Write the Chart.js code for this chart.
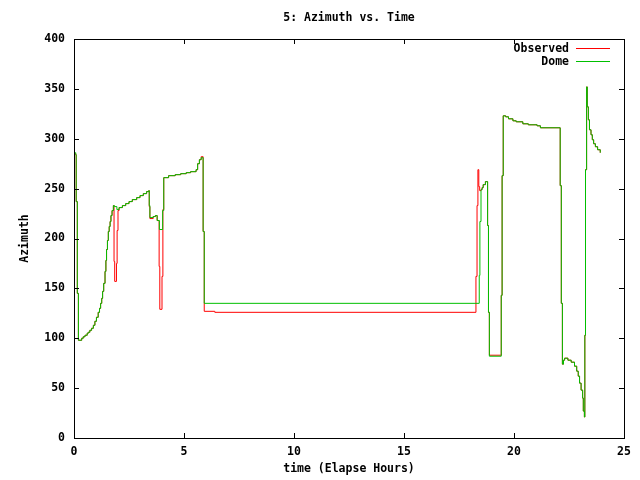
<!DOCTYPE html>
<html>
<head>
<meta charset="utf-8">
<title>5: Azimuth vs. Time</title>
<script src="https://cdn.jsdelivr.net/npm/chart.js@4.4.1/dist/chart.umd.min.js"></script>
<style>
  html, body { margin: 0; padding: 0; background: #fff; }
  canvas { display: block; }
</style>
</head>
<body>
<canvas id="azChart" width="640" height="480"></canvas>
<script>
// [elapsed hours, azimuth in degrees] - value changes
const domeTrack = [
    [0, 286], [0.08, 284], [0.1, 237], [0.15, 145], [0.2, 98], [0.35, 100], [0.42, 101.5],
    [0.5, 103], [0.6, 105], [0.65, 106], [0.72, 108], [0.8, 110], [0.88, 113], [0.95, 117],
    [1.02, 121], [1.1, 126], [1.16, 130], [1.21, 135], [1.26, 140], [1.3, 147], [1.35, 155],
    [1.41, 167], [1.45, 178], [1.48, 189], [1.52, 198], [1.56, 207], [1.6, 212], [1.64, 217],
    [1.68, 223], [1.73, 228], [1.79, 233], [1.84, 232], [1.95, 229], [2.05, 231], [2.2, 233],
    [2.35, 235], [2.5, 237], [2.65, 239], [2.85, 241], [3.0, 243], [3.15, 245], [3.3, 247],
    [3.4, 248], [3.42, 233], [3.45, 221], [3.6, 222], [3.7, 223], [3.78, 218], [3.88, 209],
    [4.03, 228], [4.08, 261], [4.3, 263], [4.6, 264], [4.85, 265], [5.1, 266], [5.3, 267],
    [5.55, 269], [5.62, 275], [5.7, 279], [5.78, 281], [5.87, 207], [5.92, 135],
    [18.42, 163], [18.45, 217], [18.5, 249], [18.55, 251], [18.6, 254], [18.7, 257],
    [18.8, 213], [18.84, 126], [18.88, 82], [19.42, 143], [19.46, 263], [19.51, 323],
    [19.62, 322], [19.75, 320], [19.95, 318], [20.1, 317], [20.4, 315], [20.65, 314],
    [21.05, 313], [21.2, 311], [22.1, 253], [22.15, 135], [22.2, 74], [22.25, 78], [22.3, 80],
    [22.45, 78], [22.6, 76], [22.75, 72], [22.85, 67], [22.92, 62], [22.98, 55], [23.05, 48],
    [23.12, 40], [23.15, 27], [23.2, 21], [23.22, 103], [23.25, 269], [23.3, 352],
    [23.33, 332], [23.38, 319], [23.43, 309], [23.5, 304], [23.56, 299], [23.62, 295],
    [23.7, 292], [23.8, 289], [23.92, 286]
];

const observedTrack = [
    [0, 285], [0.08, 284], [0.1, 237], [0.15, 145], [0.2, 98], [0.35, 100], [0.42, 101.5],
    [0.5, 103], [0.6, 105], [0.65, 106], [0.72, 108], [0.8, 110], [0.88, 113], [0.95, 117],
    [1.02, 121], [1.1, 126], [1.16, 130], [1.21, 135], [1.26, 140], [1.3, 147], [1.35, 155],
    [1.41, 167], [1.45, 178], [1.48, 189], [1.52, 198], [1.56, 207], [1.6, 212], [1.64, 217],
    [1.68, 223], [1.73, 228], [1.79, 233], [1.82, 177], [1.85, 157], [1.93, 175], [1.96, 208],
    [2.0, 228], [2.05, 231], [2.2, 233], [2.35, 235], [2.5, 237], [2.65, 239], [2.85, 241],
    [3.0, 243], [3.15, 245], [3.3, 247], [3.4, 248], [3.42, 232], [3.45, 220], [3.6, 222],
    [3.7, 223], [3.78, 218], [3.87, 172], [3.9, 129], [4.0, 162], [4.04, 229], [4.08, 261],
    [4.3, 263], [4.6, 264], [4.85, 265], [5.1, 266], [5.3, 267], [5.55, 269], [5.62, 275],
    [5.7, 279], [5.78, 282], [5.87, 207], [5.92, 127], [6.4, 126],
    [18.27, 162], [18.32, 233], [18.36, 269], [18.4, 252], [18.44, 248], [18.5, 249],
    [18.55, 251], [18.6, 254], [18.7, 257], [18.8, 213], [18.84, 126], [18.88, 83],
    [19.42, 143], [19.46, 263], [19.51, 323], [19.62, 322], [19.75, 320], [19.95, 318],
    [20.1, 317], [20.4, 315], [20.65, 314], [21.05, 313], [21.2, 311], [22.1, 253],
    [22.15, 135], [22.2, 74], [22.25, 78], [22.3, 80], [22.45, 78], [22.6, 76], [22.75, 72],
    [22.85, 67], [22.92, 62], [22.98, 55], [23.05, 48], [23.12, 40], [23.15, 27], [23.2, 21],
    [23.22, 103], [23.25, 269], [23.3, 352], [23.33, 332], [23.38, 319], [23.43, 309],
    [23.5, 304], [23.56, 299], [23.62, 295], [23.7, 292], [23.8, 289], [23.92, 286]
];

const seriesNames = ['Observed', 'Dome'];
const seriesColors = ['#ff0000', '#00c000'];
const xTicks = [0, 5, 10, 15, 20, 25];
const yTicks = [0, 50, 100, 150, 200, 250, 300, 350, 400];

const chartTitle = '5: Azimuth vs. Time';
const xTitle = 'time (Elapse Hours)';
const yTitle = 'Azimuth';

const FONT = '"DejaVu Sans Mono", "Liberation Mono", monospace';

const toPoints = track => track.map(p => ({ x: p[0], y: p[1] }));

// gnuplot look: frame, inward ticks on all four sides, titles, legend top right
const gnuplotDecor = {
    id: 'gnuplotDecor',
    afterDraw(chart) {
        const { ctx, chartArea: a, scales } = chart;
        const xs = scales.x, ys = scales.y;
        ctx.save();
        ctx.strokeStyle = '#000';
        ctx.lineWidth = 1;

        ctx.beginPath();
        xTicks.forEach(v => {
            const px = Math.round(xs.getPixelForValue(v)) + 0.5;
            ctx.moveTo(px, a.bottom); ctx.lineTo(px, a.bottom - 5);
            ctx.moveTo(px, a.top); ctx.lineTo(px, a.top + 5);
        });
        yTicks.forEach(v => {
            const py = Math.round(ys.getPixelForValue(v)) + 0.5;
            ctx.moveTo(a.left, py); ctx.lineTo(a.left + 5, py);
            ctx.moveTo(a.right, py); ctx.lineTo(a.right - 5, py);
        });
        ctx.stroke();

        ctx.strokeRect(Math.round(a.left) + 0.5, Math.round(a.top) + 0.5,
            Math.round(a.right - a.left), Math.round(a.bottom - a.top));

        ctx.fillStyle = '#000';
        ctx.font = 'bold 11.5px ' + FONT;
        ctx.textBaseline = 'middle';
        ctx.textAlign = 'center';
        const midX = (a.left + a.right) / 2;
        ctx.fillText(chartTitle, midX, 18);
        ctx.fillText(xTitle, midX, 469);

        ctx.save();
        ctx.translate(25, (a.top + a.bottom) / 2);
        ctx.rotate(-Math.PI / 2);
        ctx.fillText(yTitle, 0, 0);
        ctx.restore();

        // legend
        ctx.textAlign = 'right';
        seriesNames.forEach((name, i) => {
            const y = 48.5 + i * 13;
            ctx.fillStyle = '#000';
            ctx.fillText(name, 569, y + 0.5);
            ctx.strokeStyle = seriesColors[i];
            ctx.beginPath();
            ctx.moveTo(576, y);
            ctx.lineTo(610, y);
            ctx.stroke();
        });
        ctx.restore();
    }
};

new Chart(document.getElementById('azChart'), {
    type: 'line',
    data: {
        datasets: [
            {
                label: seriesNames[0],
                data: toPoints(observedTrack),
                borderColor: seriesColors[0],
                borderWidth: 1,
                pointRadius: 0,
                stepped: 'before',
                fill: false,
                order: 1
            },
            {
                label: seriesNames[1],
                data: toPoints(domeTrack),
                borderColor: seriesColors[1],
                borderWidth: 1,
                pointRadius: 0,
                stepped: 'before',
                fill: false,
                order: 0
            }
        ]
    },
    options: {
        responsive: false,
        animation: false,
        layout: { padding: { top: 39, right: 16, left: 0, bottom: 0 } },
        plugins: {
            legend: { display: false },
            title: { display: false },
            tooltip: { enabled: false }
        },
        scales: {
            x: {
                type: 'linear',
                min: 0,
                max: 25,
                afterFit: scale => { scale.height = 42; },
                afterBuildTicks: scale => { scale.ticks = xTicks.map(v => ({ value: v })); },
                grid: { display: false, drawTicks: false },
                border: { display: false },
                ticks: {
                    color: '#000',
                    padding: 7,
                    maxRotation: 0,
                    font: { family: FONT, size: 11.5, weight: 'bold' }
                }
            },
            y: {
                type: 'linear',
                min: 0,
                max: 400,
                afterFit: scale => { scale.width = 74; },
                afterBuildTicks: scale => { scale.ticks = yTicks.map(v => ({ value: v })); },
                grid: { display: false, drawTicks: false },
                border: { display: false },
                ticks: {
                    color: '#000',
                    padding: 9,
                    font: { family: FONT, size: 11.5, weight: 'bold' }
                }
            }
        }
    },
    plugins: [gnuplotDecor]
});
</script>
</body>
</html>
